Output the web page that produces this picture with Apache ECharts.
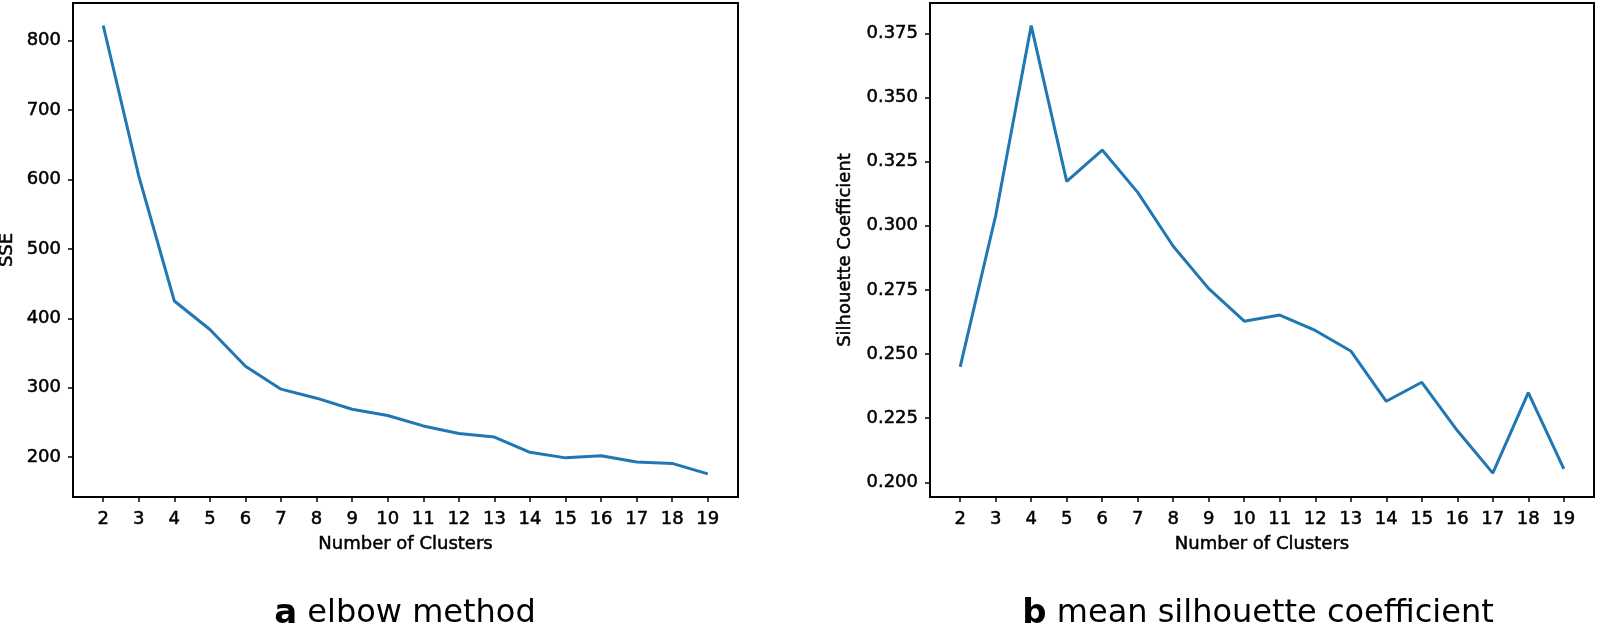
<!DOCTYPE html>
<html>
<head>
<meta charset="utf-8">
<script src="https://cdn.jsdelivr.net/npm/echarts@6/dist/echarts.min.js"></script>
<style>html,body{margin:0;padding:0;background:#fff}#c{width:1600px;height:632px}</style>
</head>
<body>
<div id="c"></div>
<script>
const clusters = [2,3,4,5,6,7,8,9,10,11,12,13,14,15,16,17,18,19];
const sse = [822,605,425,384,331,298,285,269,260,245,234,229,207,199,202,193,191,176];
const silhouette = [0.2450,0.3040,0.3780,0.3173,0.3295,0.3130,0.2920,0.2755,0.2628,0.2652,0.2592,0.2512,0.2316,0.2390,0.2202,0.2036,0.2350,0.2053];
const xTicks = [2,3,4,5,6,7,8,9,10,11,12,13,14,15,16,17,18,19];
const sseTicks = [200,300,400,500,600,700,800];
const silTicks = [0.200,0.225,0.250,0.275,0.300,0.325,0.350,0.375];

const FONT = 'DejaVu Sans';
const TXT = {fontFamily:FONT, fontSize:18, color:'#000', textBorderColor:'#000', textBorderWidth:0.5};
const chart = echarts.init(document.getElementById('c'), null, {renderer:'canvas'});

function xAxis(gi){
  return {
    type:'value', gridIndex:gi, min:1.15, max:19.85,
    name:'Number of Clusters', nameLocation:'middle', nameGap:38,
    nameTextStyle:Object.assign({}, TXT),
    axisLine:{show:true, lineStyle:{color:'#000', width:2}},
    axisTick:{show:true, length:5, lineStyle:{color:'#000', width:1.5}, customValues:xTicks},
    axisLabel:Object.assign({margin:13, customValues:xTicks}, TXT),
    splitLine:{show:false}
  };
}
function yAxis(gi, min, max, ticks, name, gap, fmt){
  return {
    type:'value', gridIndex:gi, min:min, max:max,
    name:name, nameLocation:'middle', nameGap:gap, nameRotate:90,
    nameTextStyle:Object.assign({}, TXT),
    axisLine:{show:true, lineStyle:{color:'#000', width:2}},
    axisTick:{show:true, length:5, lineStyle:{color:'#000', width:1.5}, customValues:ticks},
    axisLabel:Object.assign({margin:12, customValues:ticks, formatter:fmt}, TXT),
    splitLine:{show:false}
  };
}

chart.setOption({
  animation:false,
  backgroundColor:'#fff',
  grid:[
    {left:73, top:3, right:862, bottom:135, show:true, borderColor:'#000', borderWidth:2, containLabel:false, outerBoundsMode:'none'},
    {left:930, top:3, right:6, bottom:135, show:true, borderColor:'#000', borderWidth:2, containLabel:false, outerBoundsMode:'none'}
  ],
  xAxis:[xAxis(0), xAxis(1)],
  yAxis:[
    yAxis(0, 142.6, 854.4, sseTicks, 'SSE', 57, v => String(Math.round(v))),
    yAxis(1, 0.1943, 0.3868, silTicks, 'Silhouette Coefficient', 76, v => v.toFixed(3))
  ],
  series:[
    {type:'line', xAxisIndex:0, yAxisIndex:0, showSymbol:false, symbol:'none',
     lineStyle:{color:'#1f77b4', width:3}, data:clusters.map((c,i)=>[c, sse[i]])},
    {type:'line', xAxisIndex:1, yAxisIndex:1, showSymbol:false, symbol:'none',
     lineStyle:{color:'#1f77b4', width:3}, data:clusters.map((c,i)=>[c, silhouette[i]])}
  ],
  graphic:[
    {type:'text', x:405, y:614, style:{text:'{b|a} elbow method', align:'center', verticalAlign:'middle',
      font:'32px "DejaVu Sans"', fill:'#000',
      rich:{b:{fontWeight:'bold', fontSize:34, fontFamily:FONT, fill:'#000'}}}},
    {type:'text', x:1258, y:614, style:{text:'{b|b} mean silhouette coefficient', align:'center', verticalAlign:'middle',
      font:'32px "DejaVu Sans"', fill:'#000',
      rich:{b:{fontWeight:'bold', fontSize:34, fontFamily:FONT, fill:'#000'}}}}
  ]
});
</script>
</body>
</html>
